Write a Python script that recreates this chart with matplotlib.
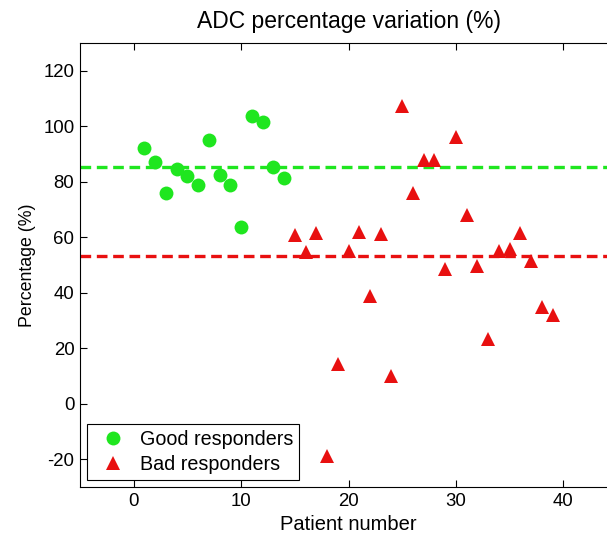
import numpy as np
import matplotlib
matplotlib.use("Agg")
import matplotlib.pyplot as plt

plt.rcParams['font.family'] = ['Liberation Sans', 'DejaVu Sans']
plt.rcParams['axes.unicode_minus'] = False

good_patients = list(range(1, 15))
good_values = [92, 87, 76, 84.7, 82, 79, 95, 82.5, 78.7, 63.6, 103.7, 101.5, 85.3, 81.3]

bad_patients = list(range(15, 40))
bad_values = [60.7, 54.8, 61.7, -18.9, 14.4, 55.2, 61.9, 39, 61, 9.9, 107.4, 75.9,
              87.7, 88, 48.6, 96.2, 68.1, 49.5, 23.3, 55, 55.9, 61.5, 51.3, 35, 32]

green = '#1fe61f'
red = '#e81010'

fig = plt.figure(figsize=(6.07, 5.39), dpi=100)
# axes runs past the right edge, as in the cropped original
ax = fig.add_axes([0.1318, 0.0965, 0.8847, 0.8237])

ax.plot(good_patients, good_values, 'o', color=green, markersize=10,
        markeredgewidth=0, label='Good responders', zorder=3)
ax.plot(bad_patients, bad_values, '^', color=red, markersize=10,
        markeredgewidth=0, label='Bad responders', zorder=3)

ax.axhline(np.mean(good_values), color=green, lw=2.4, dashes=(3.2, 1.7), zorder=2)
ax.axhline(np.mean(bad_values), color=red, lw=2.4, dashes=(3.2, 1.7), zorder=2)

ax.set_xlim(-5, 45)
ax.set_ylim(-30, 130)
ax.set_xticks([0, 10, 20, 30, 40])
ax.set_yticks(range(-20, 121, 20))
ax.tick_params(direction='in', top=True, right=True, length=5, labelsize=13.4, pad=4)

ax.set_title('ADC percentage variation (%)', fontsize=16.5, pad=11)
ax.set_xlabel('Patient number', fontsize=14.5, labelpad=4)
ax.set_ylabel('Percentage (%)', fontsize=12.8, labelpad=5)

leg = ax.legend(loc='lower left', fontsize=14.2, fancybox=False, framealpha=1,
                edgecolor='black', borderaxespad=0.35, handletextpad=0.4,
                borderpad=0.3, labelspacing=0.3, handlelength=2.0)
leg.get_frame().set_linewidth(0.8)

fig.savefig('out.png', dpi=100)
